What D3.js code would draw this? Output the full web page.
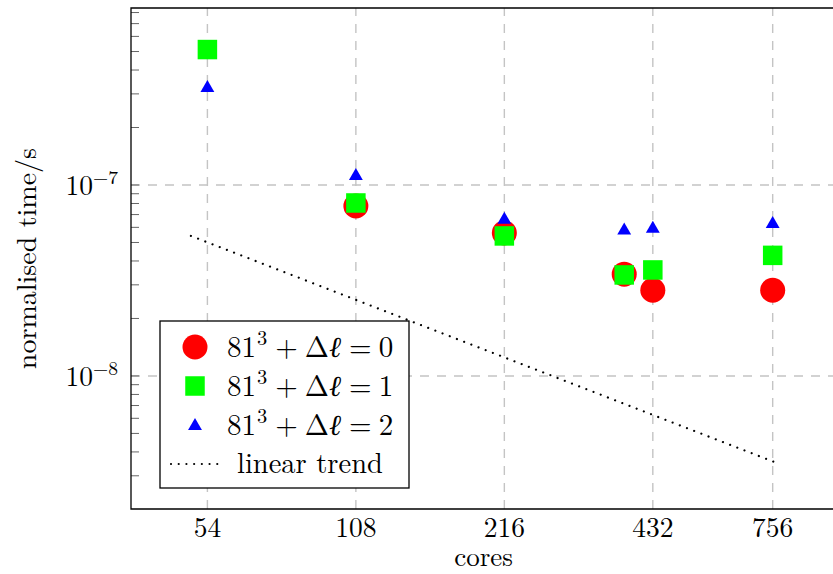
<!DOCTYPE html>
<html><head><meta charset="utf-8">
<script src="https://cdn.jsdelivr.net/npm/d3@7"></script>
<style>body{margin:0;background:#fff}svg{display:block}</style>
</head><body>
<script>
// ---- data ----
const cores = [54, 108, 216, 378, 432, 756];
const xTickValues = [54, 108, 216, 432, 756];
const yTickExponents = [-8, -7];
const timeDl0 = [null, 7.76e-8, 5.61e-8, 3.41e-8, 2.81e-8, 2.81e-8];
const timeDl1 = [5.12e-7, 8.05e-8, 5.41e-8, 3.38e-8, 3.59e-8, 4.28e-8];
const timeDl2 = [3.22e-7, 1.115e-7, 6.58e-8, 5.77e-8, 5.90e-8, 6.25e-8];
const trendCores = [50, 780];
const trendTime = [5.41e-8, 3.46e-9];
const legendValues = ["0", "1", "2"];
const xLabel = "cores";
const yLabel = "normalised time/s";
const trendLabel = "linear trend";

// ---- layout ----
const W = 833, H = 574;
const L = 131, T = 8, B = 509, R = 836;
const FONT = '"Latin Modern Roman", "Liberation Serif", serif';
const FS = "27.5px", FSS = "19.5px", FL = "29px", FLS = "20.5px";

const svg = d3.select("body").append("svg").attr("width", W).attr("height", H)
  .style("font-family", FONT);

const x = d3.scaleLog().domain([37.8, 1016]).range([L, R]);
const y = d3.scaleLog().domain([2.01e-9, 8.45e-7]).range([B, T]);

// grid
const grid = svg.append("g").attr("stroke", "#c4c4c4").attr("stroke-width", 1.4).attr("stroke-dasharray", "9 8");
grid.selectAll("line.v").data(xTickValues).join("line")
  .attr("x1", d => x(d)).attr("x2", d => x(d)).attr("y1", B).attr("y2", T);
grid.selectAll("line.h").data(yTickExponents).join("line")
  .attr("y1", d => y(Math.pow(10, d))).attr("y2", d => y(Math.pow(10, d))).attr("x1", L).attr("x2", R);

// minor y ticks (inside)
const minor = [];
for (let e = -10; e <= -6; e++) for (let m = 1; m <= 9; m++) {
  const v = m * Math.pow(10, e);
  if (v > y.domain()[0] && v < y.domain()[1]) minor.push(v);
}
svg.append("g").attr("stroke", "#666").attr("stroke-width", 1)
  .selectAll("line").data(minor).join("line")
  .attr("x1", L).attr("x2", L + 8).attr("y1", d => y(d)).attr("y2", d => y(d));

// axis lines
svg.append("path").attr("d", `M${R},${T}H${L}V${B}H${R}`).attr("fill", "none").attr("stroke", "#000").attr("stroke-width", 1.3);

// x tick labels
svg.append("g").selectAll("text").data(xTickValues).join("text")
  .attr("x", d => x(d)).attr("y", 537).attr("text-anchor", "middle")
  .style("font-family", FONT).style("font-size", FS).text(d => d);

// y tick labels
const yl = svg.append("g").selectAll("text").data(yTickExponents).join("text")
  .attr("x", 118).attr("y", d => y(Math.pow(10, d)) + 10).attr("text-anchor", "end")
  .style("font-family", FONT).style("font-size", FS);
yl.append("tspan").text("10");
yl.append("tspan").attr("dy", -11).style("font-size", FSS).text(d => "\u2212" + Math.abs(d));

// axis labels
svg.append("text").attr("x", (L + R) / 2).attr("y", 566).attr("text-anchor", "middle")
  .style("font-family", FONT).style("font-size", "27px").text(xLabel);
svg.append("text").attr("transform", `translate(36,${(T + B) / 2}) rotate(-90)`).attr("text-anchor", "middle")
  .style("font-family", FONT).style("font-size", "28px").text(yLabel);

// markers
const R_CIRC = 12.5, SQ = 19.5, TRI = 8;
function triPath(cx, cy, r) {
  const h = r * Math.sqrt(3) / 2;
  return `M${cx},${cy - r}L${cx + h},${cy + r / 2}L${cx - h},${cy + r / 2}Z`;
}
svg.append("clipPath").attr("id", "clip").append("rect")
  .attr("x", L).attr("y", T).attr("width", R - L).attr("height", B - T);
const plot = svg.append("g").attr("clip-path", "url(#clip)");

const pts = (arr) => cores.map((c, i) => ({c, v: arr[i]})).filter(d => d.v != null);

plot.append("g").selectAll("circle").data(pts(timeDl0)).join("circle")
  .attr("cx", d => x(d.c)).attr("cy", d => y(d.v)).attr("r", R_CIRC).attr("fill", "#ff0000");
plot.append("g").selectAll("rect").data(pts(timeDl1)).join("rect")
  .attr("x", d => x(d.c) - SQ / 2).attr("y", d => y(d.v) - SQ / 2).attr("width", SQ).attr("height", SQ).attr("fill", "#00ff00");
plot.append("g").selectAll("path").data(pts(timeDl2)).join("path")
  .attr("d", d => triPath(x(d.c), y(d.v), TRI)).attr("fill", "#0000ff");

const trend = trendCores.map((c, i) => [c, trendTime[i]]);
plot.append("path").datum(trend)
  .attr("d", d3.line().x(d => x(d[0])).y(d => y(d[1])))
  .attr("fill", "none").attr("stroke", "#000").attr("stroke-width", 2.2)
  .attr("stroke-linecap", "round").attr("stroke-dasharray", "0.01 7.7");

// legend
const lg = svg.append("g");
lg.append("rect").attr("x", 160).attr("y", 321).attr("width", 249).attr("height", 167)
  .attr("fill", "#fff").attr("stroke", "#000").attr("stroke-width", 1.3);
const rowY = [347, 386, 425, 464];
const mx = 195, tx = 227;
lg.append("circle").attr("cx", mx).attr("cy", rowY[0]).attr("r", R_CIRC).attr("fill", "#ff0000");
lg.append("rect").attr("x", mx - SQ / 2).attr("y", rowY[1] - SQ / 2).attr("width", SQ).attr("height", SQ).attr("fill", "#00ff00");
lg.append("path").attr("d", triPath(mx, rowY[2] + 1, TRI)).attr("fill", "#0000ff");
lg.append("line").attr("x1", 171).attr("x2", 218).attr("y1", rowY[3]).attr("y2", rowY[3])
  .attr("stroke", "#000").attr("stroke-width", 2.2).attr("stroke-linecap", "round").attr("stroke-dasharray", "0.01 7.7");

legendValues.forEach((v, i) => {
  const t = lg.append("text").attr("x", tx).attr("y", rowY[i] + 10)
    .style("font-family", FONT).style("font-size", FL);
  t.append("tspan").text("81");
  t.append("tspan").attr("dx", 1).attr("dy", -12).style("font-size", FLS).text("3");
  t.append("tspan").attr("dx", 8).attr("dy", 12).text("+");
  t.append("tspan").attr("dx", 7).text("\u0394");
  t.append("tspan").style("font-style", "italic").text("\u2113");
  t.append("tspan").attr("dx", 8).text("=");
  t.append("tspan").attr("dx", 7).text(v);
});
lg.append("text").attr("x", 237).attr("y", rowY[3] + 9)
  .style("font-family", FONT).style("font-size", "28.5px").text(trendLabel);
</script>
</body></html>
